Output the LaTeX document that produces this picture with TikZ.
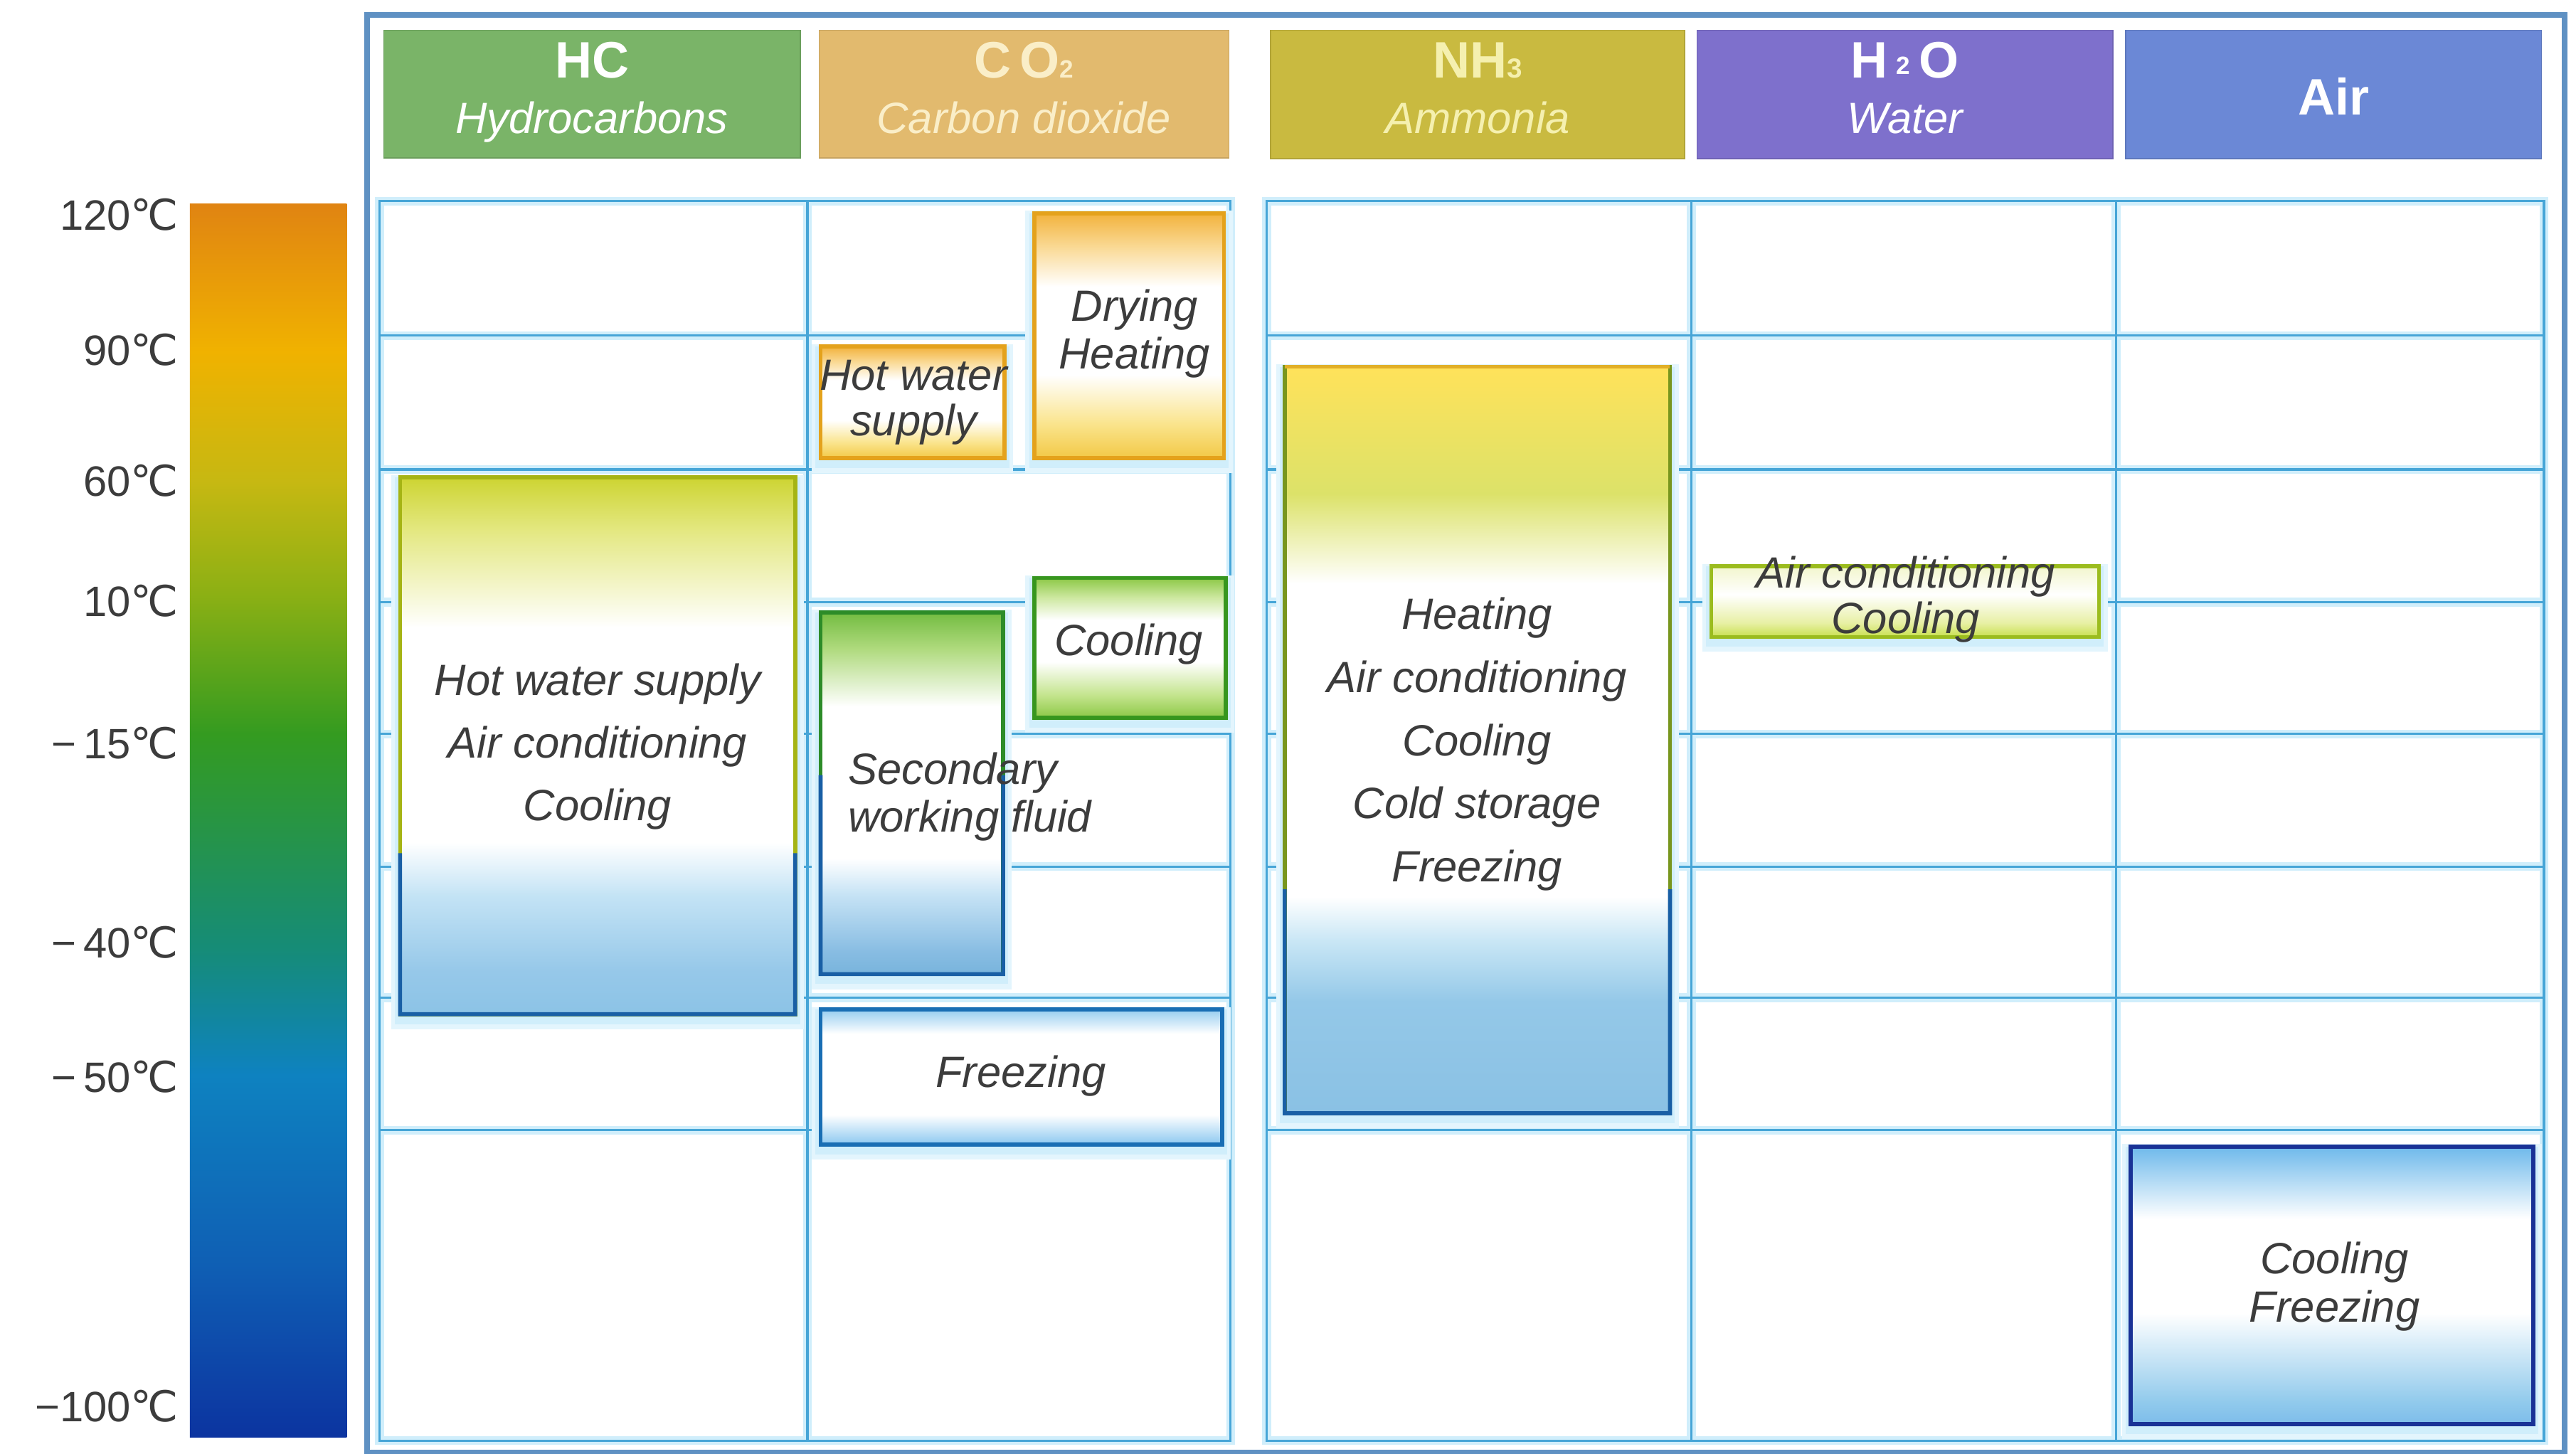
\documentclass[tikz,border=0pt]{standalone}
\usepackage{fontspec}
\setmainfont{Liberation Sans}
\newfontfamily\dejavu{DejaVu Sans}
\usetikzlibrary{fit,calc}
% general colours
\definecolor{txt}{RGB}{60,60,60}
\definecolor{gridc}{RGB}{70,165,215}
\definecolor{glowc}{RGB}{208,238,251}
\definecolor{framec}{RGB}{95,145,195}
\definecolor{hHC}{RGB}{122,180,104}
\definecolor{hCO}{RGB}{226,186,110}
\definecolor{hNH}{RGB}{201,186,64}
\definecolor{hHO}{RGB}{126,112,204}
\definecolor{hAir}{RGB}{107,136,214}
\definecolor{creamCO}{RGB}{250,238,200}
\definecolor{creamNH}{RGB}{245,240,175}
% bar colours
\definecolor{b120}{RGB}{224,132,18}
\definecolor{b90}{RGB}{240,178,0}
\definecolor{b60}{RGB}{198,184,18}
\definecolor{b10}{RGB}{140,176,20}
\definecolor{bm15}{RGB}{52,155,32}
\definecolor{bm40}{RGB}{22,140,118}
\definecolor{bm50}{RGB}{14,130,192}
\definecolor{bm75}{RGB}{15,95,180}
\definecolor{bm100}{RGB}{12,52,160}
% box fill colours
\definecolor{hcT}{RGB}{205,212,50}
\definecolor{hcT2}{RGB}{228,232,130}
\definecolor{hcB3}{RGB}{195,227,245}
\definecolor{hcB2}{RGB}{150,200,233}
\definecolor{hcB}{RGB}{140,195,230}
\definecolor{nhT}{RGB}{255,226,90}
\definecolor{nhT2}{RGB}{220,226,105}
\definecolor{nhB3}{RGB}{200,230,245}
\definecolor{nhB2}{RGB}{148,200,232}
\definecolor{nhB}{RGB}{138,193,228}
\definecolor{orT}{RGB}{242,178,60}
\definecolor{orT2}{RGB}{250,218,150}
\definecolor{orB2}{RGB}{250,228,140}
\definecolor{orB}{RGB}{242,200,70}
\definecolor{clT}{RGB}{140,200,70}
\definecolor{clT2}{RGB}{205,232,160}
\definecolor{clB2}{RGB}{195,228,140}
\definecolor{clB}{RGB}{140,200,70}
\definecolor{seT}{RGB}{115,188,65}
\definecolor{seT2}{RGB}{175,218,125}
\definecolor{seB3}{RGB}{198,227,245}
\definecolor{seB2}{RGB}{135,188,226}
\definecolor{seB}{RGB}{120,180,220}
\definecolor{frT}{RGB}{150,205,240}
\definecolor{frB}{RGB}{140,200,240}
\definecolor{airT}{RGB}{110,185,235}
\definecolor{airB2}{RGB}{145,202,236}
\definecolor{airB}{RGB}{125,188,234}
\definecolor{htT}{RGB}{242,246,205}
\definecolor{htB2}{RGB}{232,240,165}
\definecolor{htB}{RGB}{200,224,80}
% border colours
\definecolor{bdHC}{RGB}{165,180,20}
\definecolor{bdBlue}{RGB}{25,95,165}
\definecolor{bdOr}{RGB}{228,162,28}
\definecolor{bdCl}{RGB}{55,150,30}
\definecolor{bdSe}{RGB}{45,140,40}
\definecolor{bdFr}{RGB}{25,110,180}
\definecolor{bdNHt}{RGB}{225,175,40}
\definecolor{bdNHs}{RGB}{120,150,30}
\definecolor{bdH2}{RGB}{155,188,30}
\definecolor{bdAir}{RGB}{25,50,150}
% shadings (box top = 75bp, box bottom = 25bp)
\pgfdeclareverticalshading{barsh}{100bp}{color(0bp)=(bm100); color(25bp)=(bm100); color(32bp)=(bm75); color(39.7bp)=(bm50); color(44.9bp)=(bm40); color(53.5bp)=(bm15); color(59.2bp)=(b10); color(63.7bp)=(b60); color(69bp)=(b90); color(75bp)=(b120); color(100bp)=(b120)}
\pgfdeclareverticalshading{hcsh}{100bp}{color(0bp)=(hcB); color(25bp)=(hcB); color(29bp)=(hcB2); color(36bp)=(hcB3); color(41bp)=(white); color(61bp)=(white); color(70bp)=(hcT2); color(75bp)=(hcT); color(100bp)=(hcT)}
\pgfdeclareverticalshading{nhsh}{100bp}{color(0bp)=(nhB); color(25bp)=(nhB); color(32.5bp)=(nhB2); color(36.5bp)=(nhB3); color(39.5bp)=(white); color(60.5bp)=(white); color(66.5bp)=(nhT2); color(75bp)=(nhT); color(100bp)=(nhT)}
\pgfdeclareverticalshading{orsh}{100bp}{color(0bp)=(orB); color(25bp)=(orB); color(32bp)=(orB2); color(42bp)=(white); color(60bp)=(white); color(68bp)=(orT2); color(75bp)=(orT); color(100bp)=(orT)}
\pgfdeclareverticalshading{clsh}{100bp}{color(0bp)=(clB); color(25bp)=(clB); color(33bp)=(clB2); color(45bp)=(white); color(60bp)=(white); color(68bp)=(clT2); color(75bp)=(clT); color(100bp)=(clT)}
\pgfdeclareverticalshading{sesh}{100bp}{color(0bp)=(seB); color(25bp)=(seB); color(28bp)=(seB2); color(36bp)=(seB3); color(41bp)=(white); color(62bp)=(white); color(70bp)=(seT2); color(75bp)=(seT); color(100bp)=(seT)}
\pgfdeclareverticalshading{frsh}{100bp}{color(0bp)=(frB); color(25bp)=(frB); color(36bp)=(white); color(66bp)=(white); color(75bp)=(frT); color(100bp)=(frT)}
\pgfdeclareverticalshading{airsh}{100bp}{color(0bp)=(airB); color(25bp)=(airB); color(29bp)=(airB2); color(45bp)=(white); color(62bp)=(white); color(75bp)=(airT); color(100bp)=(airT)}
\pgfdeclareverticalshading{htsh}{100bp}{color(0bp)=(htB); color(25bp)=(htB); color(35bp)=(htB2); color(55bp)=(white); color(75bp)=(htT); color(100bp)=(htT)}
\begin{document}
\begin{tikzpicture}[x=0.023093cm,y=-0.023093cm,
  gridline/.style={line width=0.9pt, draw=gridc},
  gridglow/.style={line width=3.5pt, draw=glowc},
  hdr/.style={inner sep=0pt, outer sep=0pt, draw=#1!88!black, line width=0.5pt, fill=#1},
  ttl/.style={anchor=base, font=\fontsize{20.5}{22}\selectfont\bfseries, text=#1, inner sep=0pt},
  subt/.style={anchor=base, font=\fontsize{17.5}{20}\selectfont\itshape, text=#1, inner sep=0pt},
  appbox/.style={inner sep=0pt, outer sep=0pt, line width=1.6pt, shade, shading=#1,
     preaction={draw=glowc!60, line width=7pt, transform canvas={yshift=-2.5pt}},
     preaction={draw=glowc, line width=4pt, transform canvas={yshift=-2pt}}},
  lbl/.style={font=\fontsize{17.5}{#1}\selectfont\itshape, text=txt, align=center, inner sep=0pt},
  scl/.style={anchor=east, font=\fontsize{17}{18}\selectfont, text=txt, inner sep=0pt}]
\useasboundingbox (0,0) rectangle (1568,885);
\fill[white] (0,0) rectangle (1568,885);

% ---------- temperature scale ----------
\node[fit={(115.6,124) (211,875)}, inner sep=0pt, outer sep=0pt, shade, shading=barsh] (bar) {};
\node[scl] (t120) at (109,130.5) {120{\dejavu ℃}};
\node[scl] (t90)  at (109,213)   {90{\dejavu ℃}};
\node[scl] (t60)  at (109,292.4) {60{\dejavu ℃}};
\node[scl] (t10)  at (109,365.7) {10{\dejavu ℃}};
\node[scl] (tm15) at (109,452.4) {−\,15{\dejavu ℃}};
\node[scl] (tm40) at (109,573.7) {−\,40{\dejavu ℃}};
\node[scl] (tm50) at (109,655.4) {−\,50{\dejavu ℃}};
\node[scl] (tm100) at (109,856)  {−100{\dejavu ℃}};

% ---------- outer frame ----------
\draw[framec, line width=2.2pt] (223.5,9) rectangle (1561,884);

% ---------- grid ----------
\foreach \yy in {204.3,285.8,366.5,446.8,527.5,607.3,688}{
  \draw[gridglow] (231,\yy) -- (749,\yy);
  \draw[gridglow] (771,\yy) -- (1548.5,\yy);
}
\foreach \xx in {491.5,1029.5,1288}{
  \draw[gridglow] (\xx,122.5) -- (\xx,877);
}
\draw[gridglow] (231,122.5) rectangle (749,877);
\draw[gridglow] (771,122.5) rectangle (1548.5,877);
\foreach \yy in {204.3,285.8,366.5,446.8,527.5,607.3,688}{
  \draw[gridline] (231,\yy) -- (749,\yy);
  \draw[gridline] (771,\yy) -- (1548.5,\yy);
}
\foreach \xx in {491.5,1029.5,1288}{
  \draw[gridline] (\xx,122.5) -- (\xx,877);
}
\draw[gridline] (231,122.5) rectangle (749,877);
\draw[gridline] (771,122.5) rectangle (1548.5,877);

% ---------- headers ----------
\node[hdr=hHC, fit={(233.6,18.4) (487,96)}] (hHC) {};
\node[ttl=white] (hHCt) at (360.3,47.6) {HC};
\node[subt=white] (hHCs) at (360.3,81) {Hydrocarbons};

\node[hdr=hCO, fit={(498.6,18.4) (748,96)}] (hCO) {};
\node[ttl=creamCO] (hCOt) at (623.3,47.6) {C\,O{\fontsize{10}{10}\selectfont 2}};
\node[subt=creamCO] (hCOs) at (623.3,81) {Carbon dioxide};

\node[hdr=hNH, fit={(773.3,18.4) (1025.5,96.5)}] (hNH) {};
\node[ttl=creamNH] (hNHt) at (899.4,47.6) {NH{\fontsize{11}{11}\selectfont 3}};
\node[subt=creamNH] (hNHs) at (899.4,81) {Ammonia};

\node[hdr=hHO, fit={(1033,18.4) (1286,96.5)}] (hHO) {};
\node[ttl=white] (hHOt) at (1159.5,47.6) {H\,\raisebox{1.5pt}{\fontsize{10}{10}\selectfont 2}\,O};
\node[subt=white] (hHOs) at (1159.5,81) {Water};

\node[hdr=hAir, fit={(1294,18.4) (1547,96.5)}] (hAir) {};
\node[ttl=white] (hAirt) at (1420.5,70) {Air};

% ---------- application boxes ----------
% HC
\node[appbox=hcsh, draw=bdHC, fit={(243.5,290.6) (484,617.4)}] (hcbox) {};
\draw[bdBlue, line width=1.6pt] ($(hcbox.south west)!0.3!(hcbox.north west)$) -- (hcbox.south west) -- (hcbox.south east) -- ($(hcbox.south east)!0.3!(hcbox.north east)$);
\node[lbl=25pt] (hctext) at (363.7,454.5) {Hot water supply\\Air conditioning\\Cooling};

% CO2
\node[appbox=orsh, draw=bdOr, fit={(499.5,211) (611.5,279)}] (co2hw) {};
\node[appbox=orsh, draw=bdOr, fit={(629.5,129.8) (745,279)}] (co2dry) {};
\node[appbox=clsh, draw=bdCl, fit={(629.5,351.8) (746,437)}] (co2cool) {};
\node[appbox=sesh, draw=bdSe, fit={(499.5,372.8) (610.6,593)}] (co2sec) {};
\draw[bdBlue, line width=1.6pt] ($(co2sec.south west)!0.55!(co2sec.north west)$) -- (co2sec.south west) -- (co2sec.south east) -- ($(co2sec.south east)!0.55!(co2sec.north east)$);
\node[appbox=frsh, draw=bdFr, fit={(499.5,614.5) (744,696.7)}] (co2frz) {};
\node[lbl=18pt] (hwtext) at (556,245) {Hot water\\supply};
\node[lbl=19pt] (drytext) at (690.5,203) {Drying\\Heating};
\node[lbl=19pt] (cooltext) at (687,392) {Cooling};
\node[lbl=19pt, align=left, anchor=west] (sectext) at (516,485) {Secondary\\working fluid};
\node[lbl=19pt] (frztext) at (621.3,655) {Freezing};

% NH3
\node[appbox=nhsh, draw=bdNHs, fit={(782,223.3) (1016.5,677.7)}] (nhbox) {};
\draw[bdNHt, line width=1.6pt] (nhbox.north west) -- (nhbox.north east);
\draw[bdBlue, line width=1.6pt] ($(nhbox.south west)!0.3!(nhbox.north west)$) -- (nhbox.south west) -- (nhbox.south east) -- ($(nhbox.south east)!0.3!(nhbox.north east)$);
\node[lbl=25.2pt] (nhtext) at (899,453) {Heating\\Air conditioning\\Cooling\\Cold storage\\Freezing};

% H2O
\node[appbox=htsh, draw=bdH2, fit={(1041.6,344.7) (1277.6,387.7)}] (h2obox) {};
\node[lbl=18.3pt] (h2otext) at (1160,365) {Air conditioning\\Cooling};

% Air
\node[appbox=airsh, draw=bdAir, fit={(1297,698) (1542,867)}] (airbox) {};
\node[lbl=19.4pt] (airtext) at (1421,783) {Cooling\\Freezing};
\end{tikzpicture}
\end{document}
